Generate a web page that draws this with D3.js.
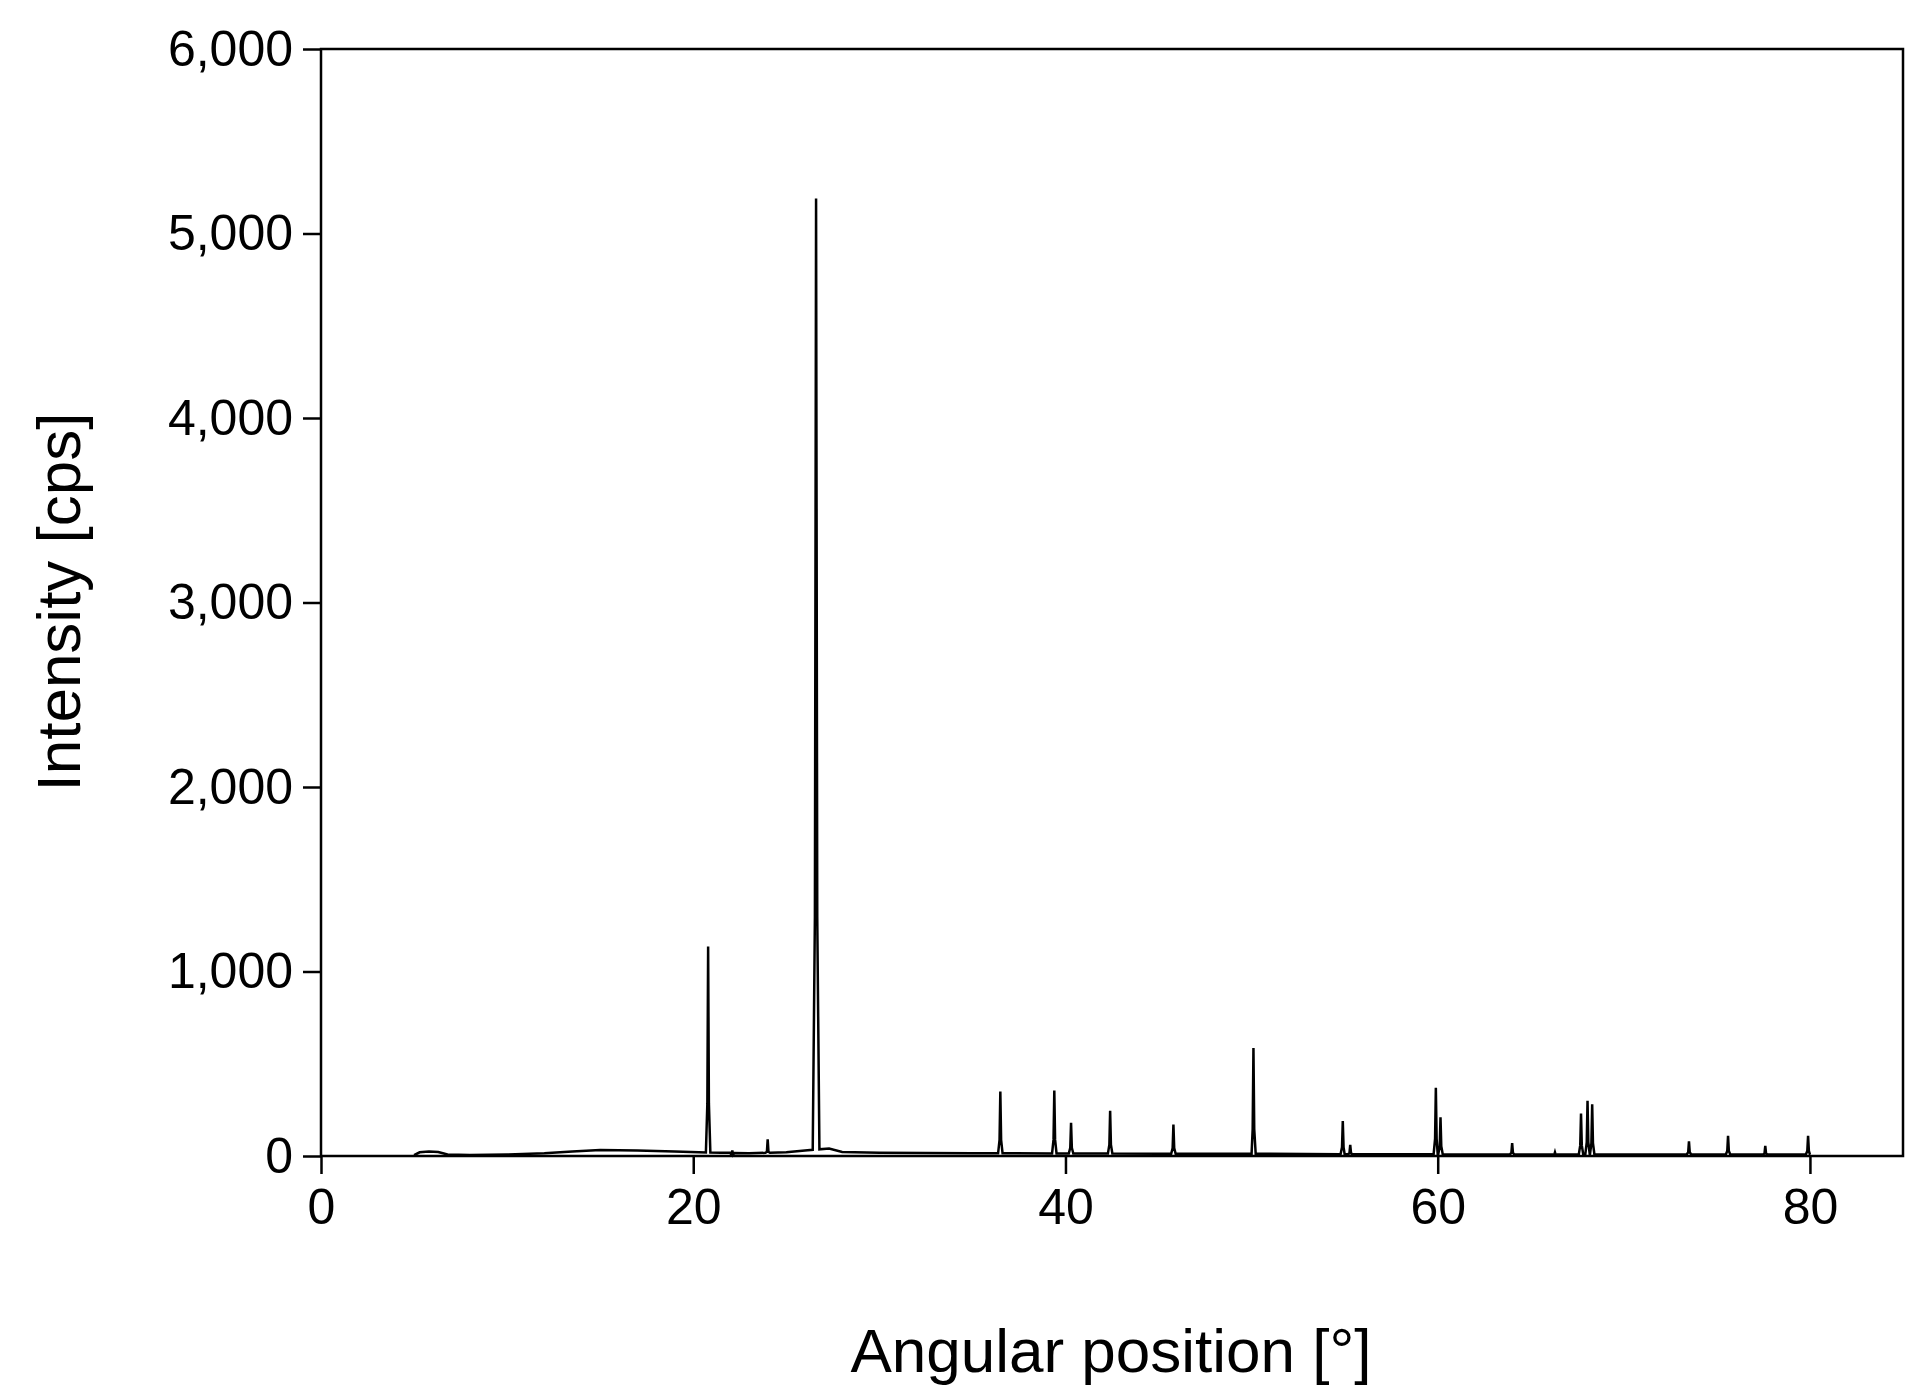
<!DOCTYPE html>
<html><head><meta charset="utf-8">
<script src="https://cdn.jsdelivr.net/npm/d3@7"></script>
<style>body{margin:0;background:#fff}text{font-family:"Liberation Sans",Arial,sans-serif}</style>
</head><body><svg id="c" width="1910" height="1390"></svg>
<script>
// background points [angle, intensity]
const background = [[5,5],[5.3,20],[5.8,25],[6.3,22],[6.8,8],[8,5],[10,8],[12,15],[13.5,25],[15,32],[17,30],[19,25],[20.3,20],[21.5,18],[23,15],[25,20],[26,30],[27.3,40],[28,22],[30,18],[35,15],[40,14],[45,12],[50,12],[55,10],[60,10],[65,8],[70,8],[75,8],[80,8]];
// peaks [angle, height]
const peakPos = [20.8,22.1,24.0,26.6,36.5,39.4,40.3,42.4,45.8,50.1,54.9,55.3,59.9,60.15,64.0,66.3,67.7,68.05,68.3,73.5,75.6,77.6,79.9];
const peakHt  = [1135,30,90,5190,350,355,180,245,170,585,190,60,370,210,70,20,230,300,280,80,110,55,110];
const xTicks = [0,20,40,60,80];
const yTicks = [0,1000,2000,3000,4000,5000,6000];

const svg = d3.select("#c");
const L=321,R=1903,T=49,B=1156;
const x=d3.scaleLinear().domain([0,85]).range([L,R]);
const y=d3.scaleLinear().domain([0,6000]).range([B,T]);
const bg=d3.scaleLinear().domain(background.map(d=>d[0])).range(background.map(d=>d[1]));
let pts=background.map(d=>[d[0],d[1]]);
peakPos.forEach((p,i)=>{const w=p===26.6?0.18:0.12;
  pts.push([p-w,bg(p-w)],[p-w*0.35,peakHt[i]*0.25],[p,peakHt[i]],[p+w*0.35,peakHt[i]*0.25],[p+w,bg(p+w)]);});
pts.sort((a,b)=>a[0]-b[0]);
svg.append("path").datum(pts).attr("fill","none").attr("stroke","#000").attr("stroke-width",2.5)
 .attr("d",d3.line().x(d=>x(d[0])).y(d=>y(d[1])));
svg.append("rect").attr("x",L).attr("y",T).attr("width",R-L).attr("height",B-T).attr("fill","none").attr("stroke","#000").attr("stroke-width",2.5);
const xa=svg.append("g").attr("transform",`translate(0,${B})`).call(d3.axisBottom(x).tickValues(xTicks).tickSize(18).tickPadding(14));
const ya=svg.append("g").attr("transform",`translate(${L},0)`).call(d3.axisLeft(y).tickValues(yTicks).tickSize(18).tickPadding(10));
[xa,ya].forEach(a=>{a.select(".domain").remove();a.selectAll("line").attr("stroke-width",2.5);a.selectAll("text").attr("font-size",50).attr("fill","#000");});
svg.append("text").attr("x",1111).attr("y",1372).attr("text-anchor","middle").attr("font-size",62).text("Angular position [°]");
svg.append("text").attr("transform","translate(80,602) rotate(-90)").attr("text-anchor","middle").attr("font-size",62).text("Intensity [cps]");
</script></body></html>
